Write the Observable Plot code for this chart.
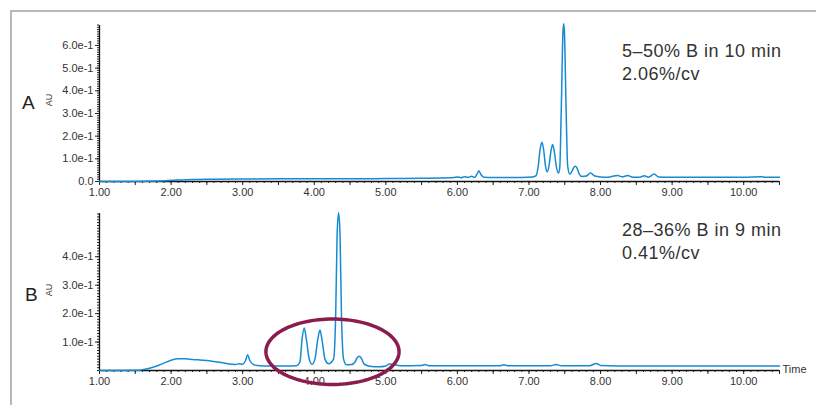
<!DOCTYPE html>
<html>
<head>
<meta charset="utf-8">
<script src="https://cdn.jsdelivr.net/npm/d3@7"></script>
<script src="https://cdn.jsdelivr.net/npm/@observablehq/plot@0.6"></script>
<style>
  html, body { margin: 0; padding: 0; background: #fff; overflow: hidden; }
  body { width: 816px; height: 405px; position: relative; font-family: "Liberation Sans", Arial, sans-serif; color: #333; }
  .frame { position: absolute; left: 10px; top: 10px; width: 900px; height: 500px; border: 2px solid #b8b8b8; }
  .abs { position: absolute; white-space: nowrap; }
  .panel { font-size: 19px; line-height: 19px; color: #222; }
  .au { font-size: 9px; transform: translate(-50%, -50%) rotate(-90deg); color: #333; }
  .note { font-size: 18px; line-height: 23px; letter-spacing: 0.5px; color: #333; }
  #plotA, #plotB { position: absolute; left: 0; }
  #plotA { top: 0; }
  #plotB { top: 200px; }
  #plotA svg g[aria-label$="tick label"], #plotB svg g[aria-label$="tick label"],
  #plotA svg g[aria-label$="tick label"] text, #plotB svg g[aria-label$="tick label"] text { font-size: 11px; }
</style>
</head>
<body>
<div class="frame"></div>
<div id="plotA"></div>
<div id="plotB"></div>
<div class="abs panel" style="left:22px; top:93px;">A</div>
<div class="abs panel" style="left:25px; top:285px;">B</div>
<div class="abs au" style="left:49px; top:100px;">AU</div>
<div class="abs au" style="left:49px; top:290px;">AU</div>
<div class="abs note" style="left:622px; top:40px;">5–50% B in 10 min<br>2.06%/cv</div>
<div class="abs note" style="left:622px; top:219px;">28–36% B in 9 min<br>0.41%/cv</div>
<script>
// ---- Data ----
// Panel A: 5–50% B in 10 min
const timeA = [1.00, 1.50, 1.80, 2.00, 2.30, 2.60, 3.00, 3.50, 4.00, 4.50, 5.00, 5.50, 5.90,
  6.00, 6.05, 6.10, 6.15, 6.20, 6.24, 6.27, 6.30, 6.33, 6.37, 6.50, 6.70, 6.90, 7.05,
  7.10, 7.13, 7.155, 7.18, 7.205, 7.23, 7.255, 7.28, 7.305, 7.33, 7.355, 7.38, 7.41,
  7.43, 7.45, 7.475, 7.485, 7.495, 7.52, 7.54, 7.57, 7.60, 7.63, 7.65, 7.67, 7.70, 7.74,
  7.80, 7.86, 7.92, 8.00, 8.10, 8.24, 8.30, 8.38, 8.45, 8.55, 8.61, 8.67, 8.75, 8.81,
  9.00, 9.50, 10.00, 10.25, 10.30, 10.50];
const auA = [0.000, 0.000, 0.002, 0.005, 0.009, 0.010, 0.011, 0.012, 0.012, 0.012, 0.013, 0.014, 0.016,
  0.020, 0.017, 0.021, 0.018, 0.023, 0.018, 0.030, 0.047, 0.030, 0.019, 0.018, 0.018, 0.018, 0.020,
  0.026, 0.070, 0.140, 0.173, 0.140, 0.070, 0.042, 0.070, 0.130, 0.163, 0.130, 0.070, 0.037,
  0.060, 0.300, 0.660, 0.696, 0.660, 0.300, 0.070, 0.033, 0.045, 0.064, 0.067, 0.060, 0.035, 0.022,
  0.024, 0.037, 0.024, 0.020, 0.019, 0.027, 0.021, 0.026, 0.019, 0.019, 0.025, 0.019, 0.033, 0.020,
  0.019, 0.019, 0.019, 0.021, 0.019, 0.019];

// Panel B: 28–36% B in 9 min
const timeB = [1.00, 1.50, 1.60, 1.70, 1.80, 1.90, 2.00, 2.10, 2.20, 2.30, 2.50, 2.70, 2.85, 2.90, 2.95,
  3.00, 3.04, 3.07, 3.10, 3.15, 3.20, 3.40, 3.60, 3.75, 3.80, 3.83, 3.86, 3.89, 3.93, 3.97,
  4.01, 4.05, 4.08, 4.11, 4.15, 4.20, 4.27, 4.30, 4.32, 4.34, 4.36, 4.38, 4.41, 4.45, 4.52,
  4.57, 4.60, 4.63, 4.66, 4.70, 4.80, 4.90, 5.00, 5.05, 5.10, 5.20, 5.50, 5.55, 5.60, 6.00,
  6.60, 6.65, 6.70, 7.30, 7.38, 7.45, 7.85, 7.94, 8.00, 8.50, 9.50, 10.50];
const auB = [0.000, 0.001, 0.003, 0.008, 0.016, 0.026, 0.036, 0.041, 0.041, 0.039, 0.035, 0.028, 0.022, 0.021, 0.024,
  0.022, 0.035, 0.055, 0.035, 0.021, 0.018, 0.016, 0.016, 0.017, 0.030, 0.110, 0.149, 0.110, 0.040, 0.022,
  0.040, 0.110, 0.142, 0.105, 0.040, 0.024, 0.040, 0.200, 0.480, 0.555, 0.480, 0.200, 0.040, 0.020, 0.021,
  0.030, 0.045, 0.050, 0.042, 0.022, 0.014, 0.013, 0.016, 0.023, 0.022, 0.017, 0.018, 0.021, 0.017, 0.017,
  0.017, 0.020, 0.017, 0.017, 0.021, 0.017, 0.017, 0.025, 0.018, 0.016, 0.016, 0.016];

// Tick labels
const xTickLabels = [1, 2, 3, 4, 5, 6, 7, 8, 9, 10];
const yTicksA = [0, 0.1, 0.2, 0.3, 0.4, 0.5, 0.6];
const yTicksB = [0.1, 0.2, 0.3, 0.4];
const xDomain = [1, 10.5];
const yMaxA = 0.688;
const yMaxB = 0.552;
const timeLabel = "Time";

// Highlight ellipse around the resolved peaks in B (data units)
const ellipseCenter = [4.255, 0.066];
const ellipseRadii = [0.93, 0.115];

// ---- Styling ----
const blue = "#168bd3";
const crimson = "#8c1c4e";
const font = "'Liberation Sans', Arial, sans-serif";

const dataA = timeA.map((t, i) => ({t, v: auA[i]}));
const dataB = timeB.map((t, i) => ({t, v: auB[i]}));
const minorX = d3.range(10, 106, 1).map(d => d / 10);
const halfX = d3.range(1.5, 10.6, 1);
const yFmt = d => d === 0 ? "0.0" : d.toExponential(1);

function axes(yMax, yTicks) {
  const minorY = d3.range(0, Math.round(yMax * 100) + 1).map(d => d / 100);
  return [
    Plot.axisX({ticks: minorX, tickSize: 2, tickFormat: () => "", label: null}),
    Plot.axisX({ticks: halfX, tickSize: 4, tickFormat: () => "", label: null}),
    Plot.axisX({ticks: xTickLabels, tickSize: 4, tickPadding: 3, tickFormat: d => d.toFixed(2), label: null, fill: "#333", fontSize: 11}),
    Plot.axisY({ticks: minorY, tickSize: 2, tickFormat: () => "", label: null}),
    Plot.axisY({ticks: yTicks, tickSize: 4, tickPadding: 2, tickFormat: yFmt, label: null, fill: "#333", fontSize: 11}),
    Plot.ruleY([0], {stroke: "#111", strokeWidth: 1.3}),
    Plot.ruleX([1], {stroke: "#111", strokeWidth: 1.3})
  ];
}

const style = {background: "transparent", fontFamily: font, fontSize: "11px", color: "#222", overflow: "visible"};

const plotA = Plot.plot({
  width: 816, height: 205,
  marginLeft: 99, marginRight: 37, marginTop: 25, marginBottom: 24,
  x: {domain: xDomain}, y: {domain: [0, yMaxA]},
  style,
  marks: [
    ...axes(yMaxA, yTicksA),
    Plot.line(dataA, {x: "t", y: "v", stroke: blue, strokeWidth: 1.5, curve: "monotone-x"})
  ]
});
document.getElementById("plotA").append(plotA);

const ellipsePts = d3.range(0, 361, 3).map(a => {
  const r = a * Math.PI / 180;
  return {t: ellipseCenter[0] + ellipseRadii[0] * Math.cos(r), v: ellipseCenter[1] + ellipseRadii[1] * Math.sin(r)};
});

const plotB = Plot.plot({
  width: 816, height: 195,
  marginLeft: 99, marginRight: 37, marginTop: 13, marginBottom: 25,
  x: {domain: xDomain}, y: {domain: [0, yMaxB]},
  style,
  marks: [
    ...axes(yMaxB, yTicksB),
    Plot.line(dataB, {x: "t", y: "v", stroke: blue, strokeWidth: 1.5, curve: "monotone-x"}),
    Plot.line(ellipsePts, {x: "t", y: "v", stroke: crimson, strokeWidth: 3.5, curve: "linear-closed"}),
    Plot.text([timeLabel], {frameAnchor: "bottom-right", text: d => d, textAnchor: "start", lineAnchor: "middle", dx: 3, dy: -1, fontSize: 11, fill: "#333"})
  ]
});
document.getElementById("plotB").append(plotB);
</script>
</body>
</html>
